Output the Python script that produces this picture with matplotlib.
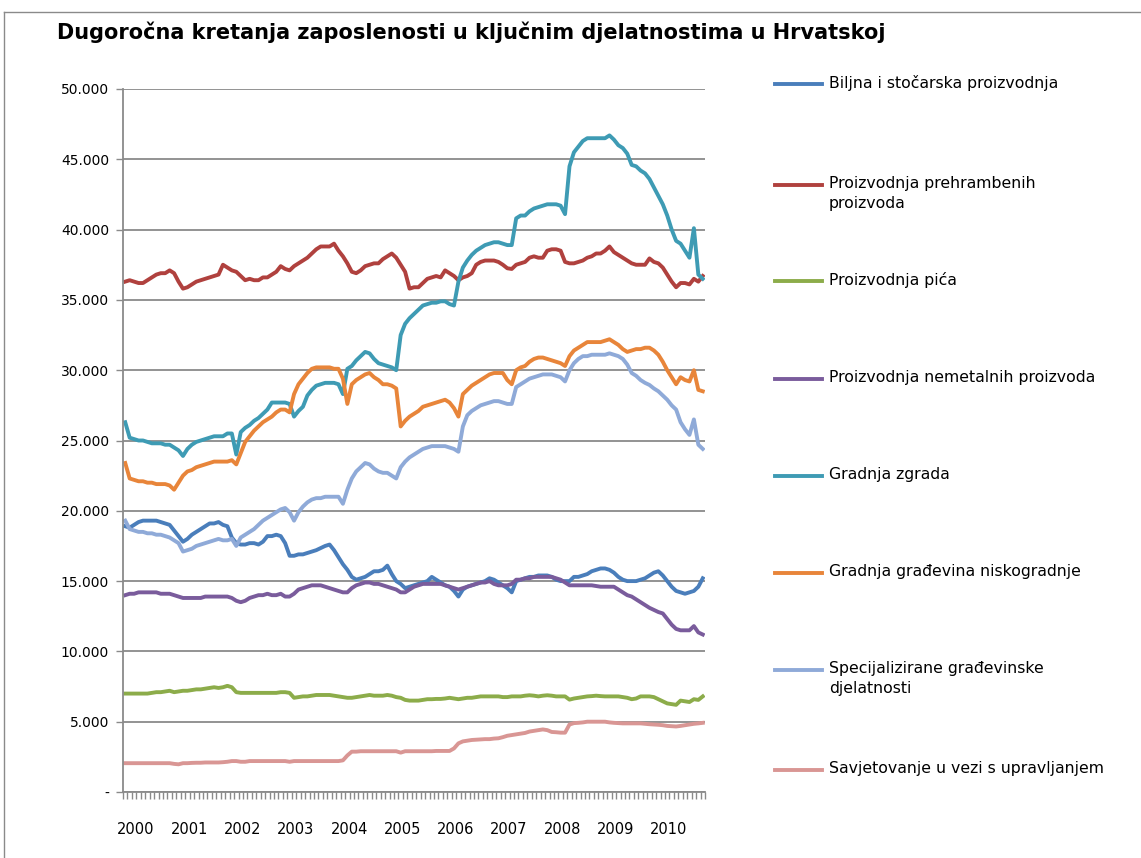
import numpy as np
import matplotlib.pyplot as plt
from matplotlib.lines import Line2D

# monthly data, Jan 2000 - Nov 2010, in thousands of employees
years = list(range(2000, 2011))

biljna = [
    18.9, 18.8, 19.0, 19.2, 19.3, 19.3, 19.3, 19.3, 19.2, 19.1, 19.0, 18.6,
    18.2, 17.8, 18.0, 18.3, 18.5, 18.7, 18.9, 19.1, 19.1, 19.2, 19.0, 18.9,
    18.1, 17.7, 17.6, 17.6, 17.7, 17.7, 17.6, 17.8, 18.2, 18.2, 18.3, 18.2,
    17.7, 16.8, 16.8, 16.9, 16.9, 17.0, 17.1, 17.2, 17.35, 17.5, 17.6, 17.2,
    16.7, 16.2, 15.8, 15.3, 15.1, 15.2, 15.3, 15.5, 15.7, 15.7, 15.8, 16.1,
    15.5, 15.0, 14.8, 14.5, 14.6, 14.7, 14.8, 14.9, 15.0, 15.3, 15.1, 14.9,
    14.7, 14.6, 14.3, 13.9, 14.4, 14.6, 14.7, 14.8, 14.9, 15.0, 15.2, 15.1,
    14.9, 14.7, 14.5, 14.2, 15.0, 15.1, 15.2, 15.3, 15.3, 15.4, 15.4, 15.4,
    15.3, 15.1, 15.0, 15.0, 15.0, 15.3, 15.3, 15.4, 15.5, 15.7, 15.8, 15.9,
    15.9, 15.8, 15.6, 15.3, 15.1, 15.0, 15.0, 15.0, 15.1, 15.2, 15.4, 15.6,
    15.7, 15.4, 15.0, 14.6, 14.3, 14.2, 14.1, 14.2, 14.3, 14.6, 15.2,
]

prehrambeni = [
    36.3, 36.4, 36.3, 36.2, 36.2, 36.4, 36.6, 36.8, 36.9, 36.9, 37.1, 36.9,
    36.3, 35.8, 35.9, 36.1, 36.3, 36.4, 36.5, 36.6, 36.7, 36.8, 37.5, 37.3,
    37.1, 37.0, 36.7, 36.4, 36.5, 36.4, 36.4, 36.6, 36.6, 36.8, 37.0, 37.4,
    37.2, 37.1, 37.4, 37.6, 37.8, 38.0, 38.3, 38.6, 38.8, 38.8, 38.8, 39.0,
    38.5, 38.1, 37.6, 37.0, 36.9, 37.1, 37.4, 37.5, 37.6, 37.6, 37.9, 38.1,
    38.3, 38.0, 37.5, 37.0, 35.8, 35.9, 35.9, 36.2, 36.5, 36.6, 36.7, 36.6,
    37.1, 36.9, 36.7, 36.4, 36.6, 36.7, 36.9, 37.5, 37.7, 37.8, 37.8, 37.8,
    37.7, 37.5, 37.25, 37.2, 37.5, 37.6, 37.7, 38.0, 38.1, 38.0, 38.0, 38.5,
    38.6, 38.6, 38.5, 37.7, 37.6, 37.6, 37.7, 37.8, 38.0, 38.1, 38.3, 38.3,
    38.5, 38.8, 38.4, 38.2, 38.0, 37.8, 37.6, 37.5, 37.5, 37.5, 37.95, 37.7,
    37.6, 37.3, 36.8, 36.3, 35.9, 36.2, 36.2, 36.1, 36.5, 36.3, 36.7,
]

pica = [
    7.0, 7.0, 7.0, 7.0, 7.0, 7.0, 7.05, 7.1, 7.1, 7.15, 7.2, 7.1,
    7.15, 7.2, 7.2, 7.25, 7.3, 7.3, 7.35, 7.4, 7.45, 7.4, 7.45, 7.55,
    7.45, 7.1, 7.05, 7.05, 7.05, 7.05, 7.05, 7.05, 7.05, 7.05, 7.05, 7.1,
    7.1, 7.05, 6.7, 6.75, 6.8, 6.8, 6.85, 6.9, 6.9, 6.9, 6.9, 6.85,
    6.8, 6.75, 6.7, 6.7, 6.75, 6.8, 6.85, 6.9, 6.85, 6.85, 6.85, 6.9,
    6.85, 6.75, 6.7, 6.55, 6.5, 6.5, 6.5, 6.55, 6.6, 6.6, 6.62, 6.62,
    6.65, 6.7, 6.65, 6.6, 6.65, 6.7, 6.7, 6.75, 6.8, 6.8, 6.8, 6.8,
    6.8, 6.75, 6.75, 6.8, 6.8, 6.8, 6.85, 6.88, 6.85, 6.8, 6.85, 6.88,
    6.85, 6.8, 6.8, 6.8, 6.57, 6.65, 6.7, 6.75, 6.8, 6.82, 6.85, 6.82,
    6.8, 6.8, 6.8, 6.8, 6.75, 6.7, 6.6, 6.65, 6.8, 6.8, 6.8, 6.75,
    6.6, 6.45, 6.3, 6.25, 6.2, 6.5, 6.45, 6.4, 6.6, 6.55, 6.8,
]

nemetalni = [
    14.0, 14.1, 14.1, 14.2, 14.2, 14.2, 14.2, 14.2, 14.1, 14.1, 14.1, 14.0,
    13.9, 13.8, 13.8, 13.8, 13.8, 13.8, 13.9, 13.9, 13.9, 13.9, 13.9, 13.9,
    13.8, 13.6, 13.5, 13.6, 13.8, 13.9, 14.0, 14.0, 14.1, 14.0, 14.0, 14.1,
    13.9, 13.9, 14.1, 14.4, 14.5, 14.6, 14.7, 14.7, 14.7, 14.6, 14.5, 14.4,
    14.3, 14.2, 14.2, 14.5, 14.7, 14.8, 14.9, 14.9, 14.8, 14.8, 14.7, 14.6,
    14.5, 14.4, 14.2, 14.2, 14.4, 14.6, 14.7, 14.8, 14.8, 14.8, 14.8, 14.8,
    14.7, 14.6, 14.5, 14.4, 14.5, 14.6, 14.7, 14.8, 14.9, 14.9, 15.0, 14.8,
    14.7, 14.7, 14.7, 14.8, 15.1, 15.1, 15.2, 15.2, 15.3, 15.3, 15.3, 15.3,
    15.3, 15.2, 15.1, 14.9, 14.7, 14.7, 14.7, 14.7, 14.7, 14.7, 14.65, 14.6,
    14.6, 14.6, 14.6, 14.4, 14.2, 14.0, 13.9, 13.7, 13.5, 13.3, 13.1, 12.95,
    12.8, 12.7, 12.3, 11.9, 11.6, 11.5, 11.5, 11.5, 11.8, 11.35, 11.2,
]

zgrade = [
    26.3, 25.2, 25.1, 25.0, 25.0, 24.9, 24.8, 24.8, 24.8, 24.7, 24.7, 24.5,
    24.3, 23.9, 24.4, 24.7, 24.9, 25.0, 25.1, 25.2, 25.3, 25.3, 25.3, 25.5,
    25.5, 24.0, 25.6, 25.9, 26.1, 26.4, 26.6, 26.9, 27.2, 27.7, 27.7, 27.7,
    27.7, 27.6, 26.7, 27.1, 27.4, 28.2, 28.6, 28.9, 29.0, 29.1, 29.1, 29.1,
    29.0, 28.3, 30.1, 30.3, 30.7, 31.0, 31.3, 31.2, 30.8, 30.5, 30.4, 30.3,
    30.2, 30.0, 32.5, 33.3, 33.7, 34.0, 34.3, 34.6, 34.7, 34.8, 34.8, 34.9,
    34.9, 34.7, 34.6, 36.3, 37.3, 37.8, 38.2, 38.5, 38.7, 38.9, 39.0, 39.1,
    39.1, 39.0, 38.9, 38.9, 40.8, 41.0, 41.0, 41.3, 41.5, 41.6, 41.7, 41.8,
    41.8, 41.8, 41.7, 41.1, 44.5, 45.5, 45.9, 46.3, 46.5, 46.5, 46.5, 46.5,
    46.5, 46.7, 46.4, 46.0, 45.8, 45.4, 44.6, 44.5, 44.2, 44.0, 43.6, 43.0,
    42.4, 41.8, 41.0, 40.0, 39.2, 39.0, 38.5, 38.0, 40.1, 36.8, 36.5,
]

niskogradnja = [
    23.4, 22.3, 22.2, 22.1, 22.1, 22.0, 22.0, 21.9, 21.9, 21.9, 21.8, 21.5,
    22.0, 22.5, 22.8, 22.9, 23.1, 23.2, 23.3, 23.4, 23.5, 23.5, 23.5, 23.5,
    23.6, 23.3, 24.1, 24.9, 25.3, 25.7, 26.0, 26.3, 26.5, 26.7, 27.0, 27.2,
    27.2, 27.0, 28.3, 29.0, 29.4, 29.8, 30.1, 30.2, 30.2, 30.2, 30.2, 30.1,
    30.1, 29.4, 27.6, 29.0, 29.3, 29.5, 29.7, 29.8, 29.5, 29.3, 29.0, 29.0,
    28.9, 28.7, 26.0, 26.4, 26.7, 26.9, 27.1, 27.4, 27.5, 27.6, 27.7, 27.8,
    27.9, 27.7, 27.3, 26.7, 28.3, 28.6, 28.9, 29.1, 29.3, 29.5, 29.7, 29.8,
    29.8, 29.8, 29.3, 29.0, 30.0, 30.2, 30.3, 30.6, 30.8, 30.9, 30.9, 30.8,
    30.7, 30.6, 30.5, 30.3, 31.0, 31.4, 31.6, 31.8, 32.0, 32.0, 32.0, 32.0,
    32.1, 32.2, 32.0, 31.8, 31.5, 31.3, 31.4, 31.5, 31.5, 31.6, 31.6, 31.4,
    31.1, 30.6, 30.0, 29.5, 29.0, 29.5, 29.3, 29.2, 30.0, 28.6, 28.5,
]

specijalizirane = [
    19.3, 18.7, 18.6, 18.5, 18.5, 18.4, 18.4, 18.3, 18.3, 18.2, 18.1, 17.9,
    17.7, 17.1, 17.2, 17.3, 17.5, 17.6, 17.7, 17.8, 17.9, 18.0, 17.9, 17.9,
    18.0, 17.5, 18.1, 18.3, 18.5, 18.7, 19.0, 19.3, 19.5, 19.7, 19.9, 20.1,
    20.2, 19.9, 19.3, 19.9, 20.3, 20.6, 20.8, 20.9, 20.9, 21.0, 21.0, 21.0,
    21.0, 20.5, 21.5, 22.3, 22.8, 23.1, 23.4, 23.3, 23.0, 22.8, 22.7, 22.7,
    22.5, 22.3, 23.1, 23.5, 23.8, 24.0, 24.2, 24.4, 24.5, 24.6, 24.6, 24.6,
    24.6, 24.5, 24.4, 24.2, 26.0, 26.8, 27.1, 27.3, 27.5, 27.6, 27.7, 27.8,
    27.8, 27.7, 27.6, 27.6, 28.8, 29.0, 29.2, 29.4, 29.5, 29.6, 29.7, 29.7,
    29.7, 29.6, 29.5, 29.2, 30.0, 30.5, 30.8, 31.0, 31.0, 31.1, 31.1, 31.1,
    31.1, 31.2, 31.1, 31.0, 30.8, 30.4, 29.8, 29.6, 29.3, 29.1, 28.95, 28.7,
    28.5, 28.2, 27.9, 27.5, 27.2, 26.3, 25.8, 25.4, 26.5, 24.7, 24.4,
]

savjetovanje = [
    2.05, 2.05, 2.05, 2.05, 2.05, 2.05, 2.05, 2.05, 2.05, 2.05, 2.05, 2.0,
    1.97, 2.05, 2.05, 2.07, 2.08, 2.08, 2.1, 2.1, 2.1, 2.1, 2.12, 2.15,
    2.2, 2.2, 2.15, 2.15, 2.2, 2.2, 2.2, 2.2, 2.2, 2.2, 2.2, 2.2,
    2.2, 2.15, 2.2, 2.2, 2.2, 2.2, 2.2, 2.2, 2.2, 2.2, 2.2, 2.2,
    2.2, 2.25, 2.6, 2.87, 2.87, 2.9, 2.9, 2.9, 2.9, 2.9, 2.9, 2.9,
    2.9, 2.9, 2.8, 2.9, 2.9, 2.9, 2.9, 2.9, 2.9, 2.9, 2.92, 2.92,
    2.92, 2.92, 3.1, 3.46, 3.6, 3.65, 3.7, 3.72, 3.74, 3.76, 3.76, 3.8,
    3.82, 3.9, 4.0, 4.05, 4.1, 4.15, 4.2, 4.3, 4.35, 4.4, 4.45, 4.4,
    4.27, 4.25, 4.22, 4.22, 4.8, 4.9, 4.92, 4.95, 5.0, 5.0, 5.0, 5.0,
    5.0, 4.95, 4.92, 4.9, 4.88, 4.88, 4.88, 4.88, 4.88, 4.85, 4.82, 4.8,
    4.78, 4.75, 4.7, 4.68, 4.66, 4.7, 4.75, 4.8, 4.85, 4.88, 4.92,
]

labels = [
    "Biljna i stočarska proizvodnja",
    "Proizvodnja prehrambenih\nproizvoda",
    "Proizvodnja pića",
    "Proizvodnja nemetalnih proizvoda",
    "Gradnja zgrada",
    "Gradnja građevina niskogradnje",
    "Specijalizirane građevinske\ndjelatnosti",
    "Savjetovanje u vezi s upravljanjem",
]
series = [biljna, prehrambeni, pica, nemetalni, zgrade, niskogradnja,
          specijalizirane, savjetovanje]
colors = ["#4a7ebb", "#b0413e", "#8cac4a", "#7a5c9c",
          "#3e9bb4", "#e8853a", "#8faad8", "#d99694"]

yticks = list(range(0, 50001, 5000))
ytick_labels = ["-"] + [f"{v:,}".replace(",", ".") for v in yticks[1:]]

plt.rcParams['font.family'] = ['DejaVu Sans']

fig = plt.figure(figsize=(11.41, 8.58), dpi=100)
ax = fig.add_axes([123 / 1141, 1 - 792 / 858, (705 - 123) / 1141, (792 - 89) / 858])

n = len(biljna)
x = np.arange(n)
for vals, c in zip(series, colors):
    ax.plot(x, np.array(vals) * 1000, color=c, lw=2.8, solid_joinstyle='round')

ax.set_xlim(-0.5, n - 0.5)
ax.set_ylim(0, 50000)
ax.set_yticks(yticks)
ax.set_yticklabels(ytick_labels, fontsize=10)
ax.yaxis.grid(True, color="#8a8a8a", lw=1.3)
ax.set_axisbelow(True)

ax.set_xticks(np.arange(n + 1) - 0.5)
ax.set_xticklabels([])
ax.tick_params(axis='x', length=5, color="#8a8a8a", width=1)
ax.tick_params(axis='y', length=5, color="#8a8a8a", width=1, pad=5)
for yr_i, yr in enumerate(years):
    ax.text(yr_i * 12 + 2.4, -0.054, str(yr), transform=ax.get_xaxis_transform(),
            ha='center', va='center', fontsize=10.5)

for s in ['top', 'right']:
    ax.spines[s].set_visible(False)
for s in ['left', 'bottom']:
    ax.spines[s].set_color("#8a8a8a")
    ax.spines[s].set_linewidth(1.3)

# title
fig.text(57 / 1141, 1 - 32 / 858, "Dugoročna kretanja zaposlenosti u ključnim djelatnostima u Hrvatskoj",
         fontsize=15, fontweight='bold', va='center', ha='left')

# legend drawn by hand to match spacing
leg_y = [84, 185, 281, 379, 476, 573, 670, 770]
for yy, lab, c in zip(leg_y, labels, colors):
    fy = 1 - yy / 858
    fig.add_artist(Line2D([775 / 1141, 822 / 1141], [fy, fy], color=c, lw=2.8))
    fig.text(829 / 1141, fy + 9 / 858, lab, fontsize=11.3, va='top', ha='left',
             linespacing=1.45)

# chart border
fig.add_artist(Line2D([4 / 1141, 4 / 1141], [0, 1 - 12 / 858], color="#8a8a8a", lw=1))
fig.add_artist(Line2D([4 / 1141, 1], [1 - 12 / 858, 1 - 12 / 858], color="#8a8a8a", lw=1))

fig.savefig("out.png", dpi=100)
